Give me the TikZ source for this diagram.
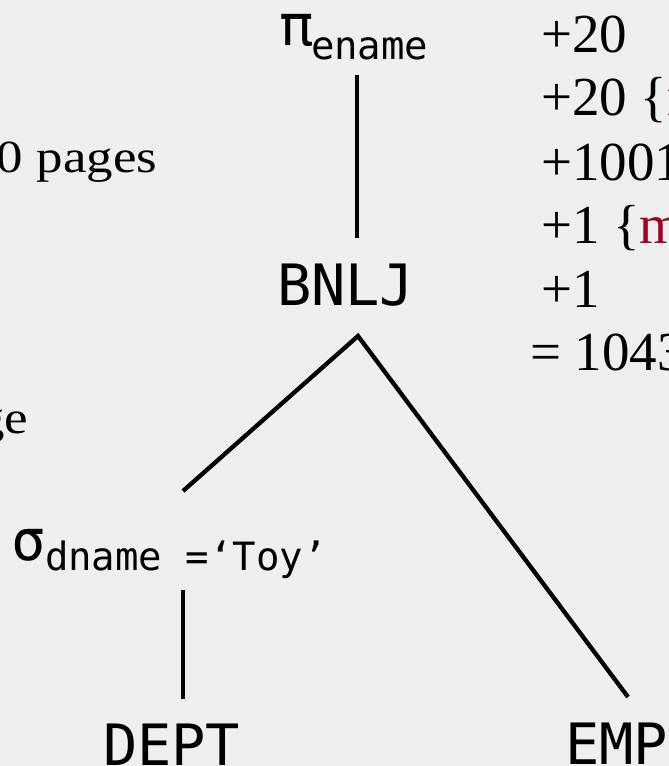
\documentclass[tikz,border=0pt]{standalone}
\usepackage{fontspec}
\setmainfont{Liberation Serif}
\newfontfamily\monof{DejaVu Sans Mono}
\newfontfamily\leftf[FakeStretch=1.15]{Liberation Serif}
\definecolor{bgc}{RGB}{239,239,239}
\definecolor{darkred}{RGB}{165,0,33}
\tikzset{
  txt/.style={inner sep=0pt, outer sep=0pt, anchor=base west},
  opbig/.style={txt, font=\monof\fontsize{57}{62}\selectfont},
  opsub/.style={txt, font=\monof\fontsize{39}{43}\selectfont},
  costtxt/.style={txt, font=\fontsize{55}{60}\selectfont},
  lefttxt/.style={txt, font=\leftf\fontsize{46}{50}\selectfont},
  edge/.style={line width=4.3pt, black},
}
\begin{document}
\begin{tikzpicture}[x=1pt, y=-1pt]
\fill[bgc] (0,0) rectangle (669,766);
\useasboundingbox (0,0) rectangle (669,766);
\clip (0,0) rectangle (669,766);
% operators
\node[opbig] (pi) at (279,45) {π};
\node[opsub] (piname) at (311,59) {ename};
\node[opbig] (bnlj) at (277,305) {BNLJ};
\node[opbig] (sigma) at (12,560) {σ};
\node[opsub] (signame) at (45,570) {dname =‘Toy’};
\node[opbig] (dept) at (103,765) {DEPT};
\node[opbig] (emp) at (565,764) {EMP};
% connector end points
\coordinate (piB) at (357,75);
\coordinate (bnljT) at (357,238);
\coordinate (apex) at (358,336);
\coordinate (sigT) at (183,491);
\coordinate (empT) at (628,697);
\coordinate (sigB) at (183,590);
\coordinate (deptT) at (183,699);
\draw[edge] (piB) -- (bnljT);
\draw[edge, line join=miter] (sigT) -- (apex) -- (empT);
\draw[edge] (sigB) -- (deptT);
% cost column
\node[costtxt] (c1) at (541,52) {+20};
\node[costtxt] (c2) at (541,115) {+20 \{\textcolor{darkred}{r}};
\node[costtxt] (c3) at (541,180) {+1001};
\node[costtxt] (c4) at (541,243) {+1 \{\textcolor{darkred}{m}};
\node[costtxt] (c5) at (541,307) {+1};
\node[costtxt] (c6) at (530,370) {= 1043};
% left text
\node[lefttxt] (l1) at (-3,172) {0 pages};
\node[lefttxt, anchor=base east] (l2) at (28,433) {ge};
\end{tikzpicture}
\end{document}
